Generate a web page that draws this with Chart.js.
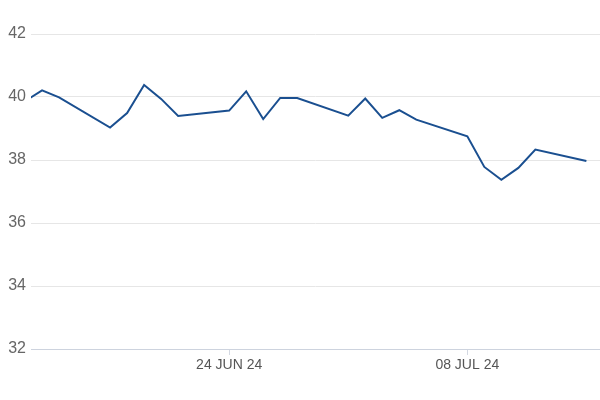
<!DOCTYPE html>
<html>
<head>
<meta charset="utf-8">
<script src="https://cdn.jsdelivr.net/npm/chart.js@4/dist/chart.umd.min.js"></script>
<style>
  html, body { margin: 0; padding: 0; background: #fff; }
  canvas { display: block; }
</style>
</head>
<body>
<canvas id="chart" width="600" height="400"></canvas>
<script>
// trading days and closing values
var dates = ['2024-06-12', '2024-06-13', '2024-06-14', '2024-06-17', '2024-06-18', '2024-06-19',
  '2024-06-20', '2024-06-21', '2024-06-24', '2024-06-25', '2024-06-26', '2024-06-27',
  '2024-06-28', '2024-07-01', '2024-07-02', '2024-07-03', '2024-07-04', '2024-07-05',
  '2024-07-08', '2024-07-09', '2024-07-10', '2024-07-11', '2024-07-12', '2024-07-15'];
var values = [39.87, 40.21, 39.99, 39.03, 39.49, 40.38,
  39.94, 39.40, 39.57, 40.18, 39.30, 39.97,
  39.97, 39.41, 39.95, 39.34, 39.58, 39.28,
  38.75, 37.78, 37.37, 37.75, 38.33, 37.97];
var tickDates = ['2024-06-24', '2024-07-08'];
var tickLabels = ['24 JUN 24', '08 JUL 24'];

var DAY = 86400000;
var base = Date.parse('2024-06-24');
function dayOf(d) { return (Date.parse(d) - base) / DAY; }

var points = dates.map(function (d, i) { return { x: dayOf(d), y: values[i] }; });
var tickDays = tickDates.map(dayOf);

new Chart(document.getElementById('chart'), {
  type: 'line',
  data: {
    datasets: [{
      data: points,
      borderColor: '#1a4f90',
      borderWidth: 2,
      pointRadius: 0,
      tension: 0,
      fill: false
    }]
  },
  options: {
    responsive: false,
    animation: false,
    devicePixelRatio: 1,
    layout: { padding: { top: 34, right: 0, bottom: 0, left: 0 } },
    plugins: { legend: { display: false }, tooltip: { enabled: false } },
    scales: {
      x: {
        type: 'linear',
        min: -11.65,
        max: 21.8,
        afterBuildTicks: function (scale) {
          scale.ticks = tickDays.map(function (v) { return { value: v }; });
        },
        afterFit: function (scale) { scale.height = 51; },
        grid: {
          drawOnChartArea: false,
          drawTicks: true,
          tickLength: 6,
          color: '#d3d8e2'
        },
        border: { display: true, color: '#cdd3de' },
        ticks: {
          autoSkip: false,
          maxRotation: 0,
          padding: 2,
          color: '#555',
          font: { family: 'Liberation Sans, Arial, sans-serif', size: 14 },
          callback: function (v) {
            var i = tickDays.indexOf(v);
            return i >= 0 ? tickLabels[i] : '';
          }
        }
      },
      y: {
        min: 32,
        max: 42,
        afterFit: function (scale) { scale.width = 31; },
        grid: {
          drawTicks: false,
          color: function (ctx) { return ctx.tick && ctx.tick.value === 32 ? '#cdd3de' : '#e6e6e6'; }
        },
        border: { display: false },
        ticks: {
          stepSize: 2,
          padding: 5,
          color: '#666',
          font: { family: 'Liberation Sans, Arial, sans-serif', size: 16 }
        }
      }
    }
  }
});
</script>
</body>
</html>
